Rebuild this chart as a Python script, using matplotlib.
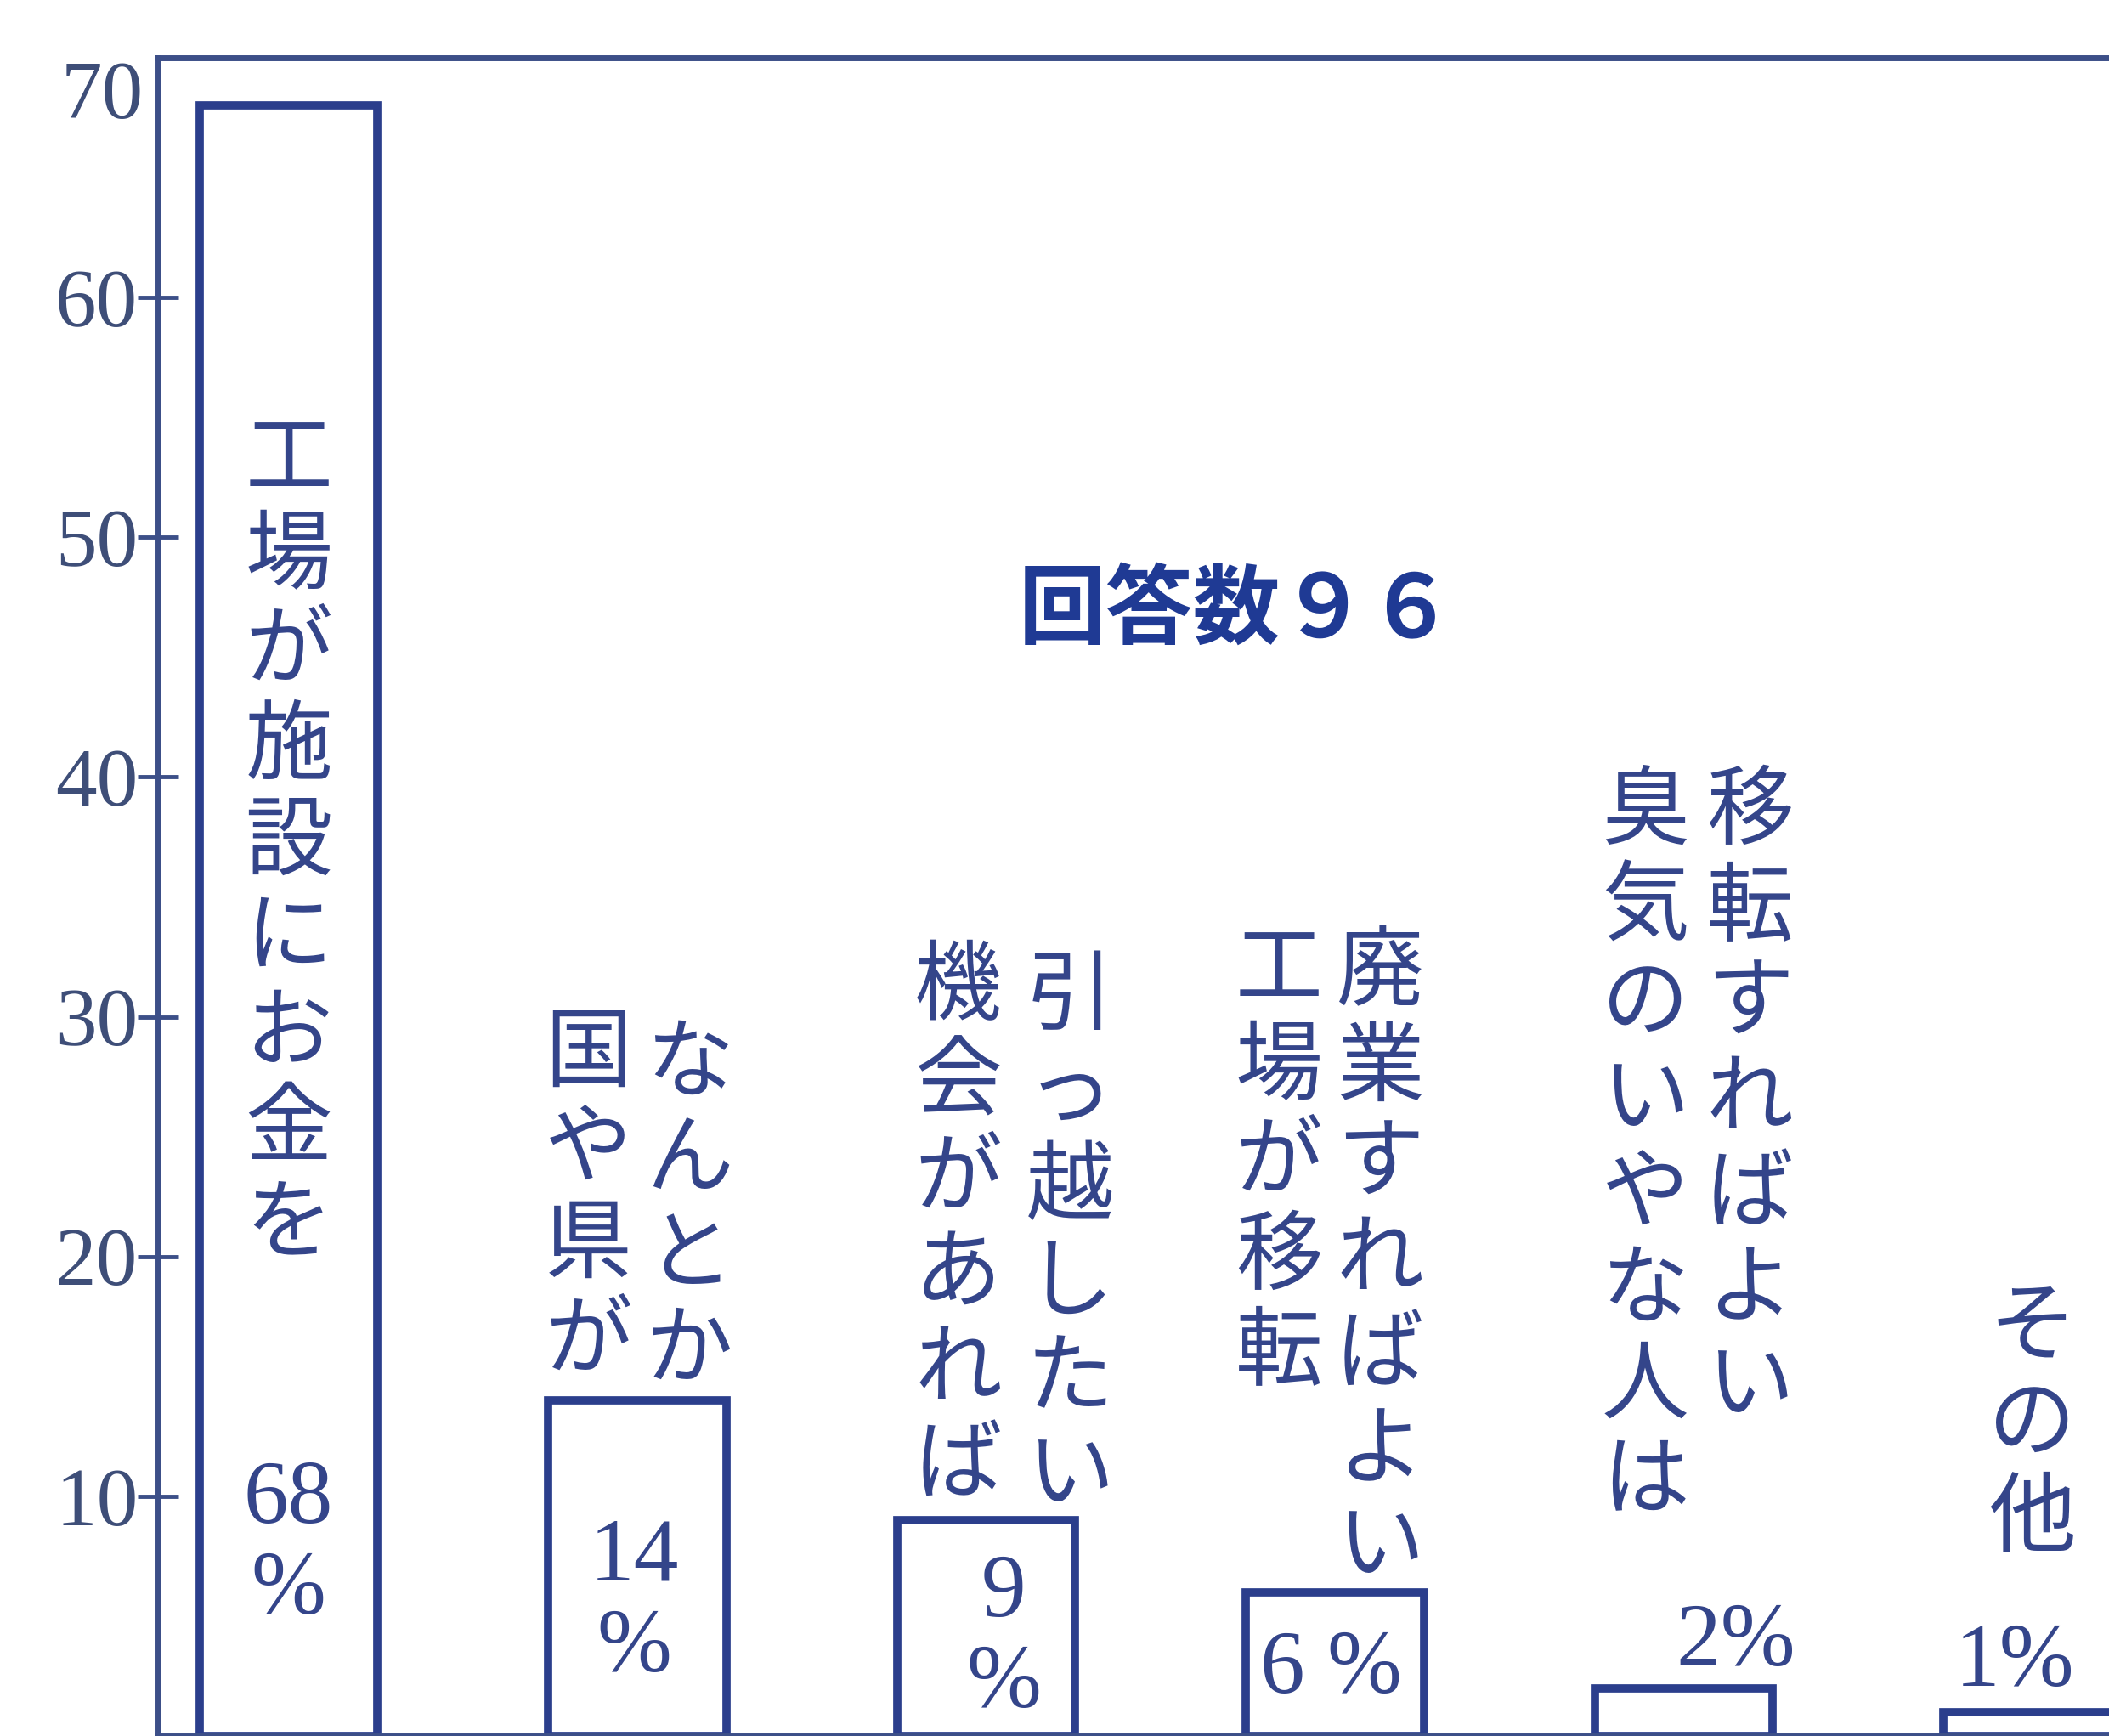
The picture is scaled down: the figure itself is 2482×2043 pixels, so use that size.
import numpy as np
import matplotlib.pyplot as plt

plt.rcParams['font.family'] = ['Noto Sans CJK JP', 'DejaVu Sans']

# data
values = [68, 14, 9, 6, 2, 1]
value_labels = ['68\n%', '14\n%', '9\n%', '6 %', '2%', '1%']
# vertical label columns, right column first (read right to left)
label_cols = [
    ['工場が施設にお金を'],
    ['なんとか', '国や県が'],
    ['引っ越したい', '機会があれば'],
    ['廃業すればよい', '工場が移転'],
    ['移転すればよい', '臭気のいやな人は'],
    ['その他'],
]
title = '回答数９６'
yticks = [10, 20, 30, 40, 50, 60]

# layout (data coords): first-character anchor of each column
col_pos = [
    [(0.0, 53.2)],
    [(1.15, 28.0), (0.86, 28.4)],
    [(2.24, 30.8), (1.92, 31.2)],
    [(3.13, 31.8), (2.84, 31.9)],
    [(4.19, 38.5), (3.89, 38.5)],
    [(5.0, 17.0)],
]
val_pos = [(0.0, 7.9), (0.99, 5.5), (2.05, 4.0), (2.99, 2.7), (4.15, 3.85), (4.95, 3.0)]

blue = '#2b3e8c'
txt = '#34458a'

fig = plt.figure(figsize=(24.82, 20.43), dpi=100)
ax = fig.add_axes([0.075, 0.0, 1.0, 0.9667])

x = np.arange(len(values))
ax.bar(x, values, width=0.51, fill=False, edgecolor=blue, linewidth=7)

ax.set_xlim(-0.374, (5.22 + 0.374) / 0.925 - 0.374)
ax.set_ylim(0, 70)

for s in ['top', 'left', 'bottom']:
    ax.spines[s].set_color('#3c4f88')
    ax.spines[s].set_linewidth(5)
ax.spines['right'].set_visible(False)

ax.set_xticks([])
ax.set_yticks(yticks)
ax.set_yticklabels([str(t) for t in yticks], family='Liberation Serif', fontsize=70, color='#3e4e78')
ax.tick_params(axis='y', direction='inout', length=34, width=3.5, color='#3c4f88', pad=0)
ax.text(-0.007, 68.3, '70', transform=ax.get_yaxis_transform(), ha='right', va='center',
        family='Liberation Serif', fontsize=70, color='#3e4e78')

def vcol(xp, yp, s, size=74, pitch=81):
    for i, ch in enumerate(s):
        ax.annotate(ch, (xp, yp), xytext=(0, -i * pitch), textcoords='offset points',
                    ha='center', va='center', fontsize=size, color=txt)

for cols, poss in zip(label_cols, col_pos):
    for s, (xp, yp) in zip(cols, poss):
        vcol(xp, yp, s)

for lab, (xp, yp) in zip(value_labels, val_pos):
    ax.text(xp, yp, lab, ha='center', va='center', family='Liberation Serif',
            fontsize=76, color=txt, linespacing=1.15)

ax.text(2.72, 46.9, title, ha='center', va='center', fontsize=74, fontweight='bold', color='#1f3a94')

fig.savefig('out.png', dpi=100)
